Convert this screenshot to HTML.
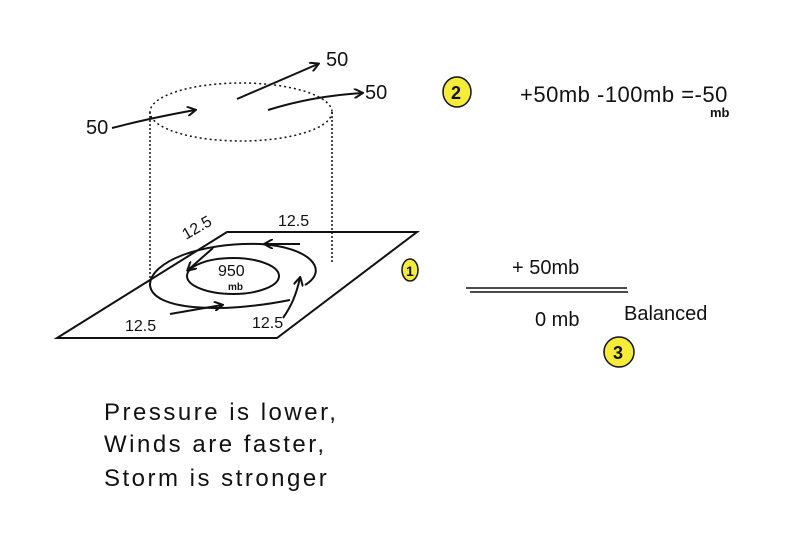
<!DOCTYPE html>
<html><head><meta charset="utf-8"><style>
html,body{margin:0;padding:0;background:#fff;}
svg{display:block}
text{font-family:"Liberation Sans",sans-serif;fill:#111}
</style></head><body>
<svg width="800" height="560" viewBox="0 0 800 560" xmlns="http://www.w3.org/2000/svg">
<defs><marker id="a" markerWidth="10" markerHeight="10" refX="8" refY="5" orient="auto" markerUnits="userSpaceOnUse"><path d="M0,0 L9,5 L0,10" fill="none" stroke="#111" stroke-width="2"/></marker></defs>
<g stroke="#111" fill="none" stroke-width="2">
<path d="M227,232 L417,232 L277,338 L57,338 Z"/>
<ellipse cx="241" cy="112" rx="91" ry="29" stroke-dasharray="2,3" stroke-width="1.5"/>
<line x1="150" y1="112" x2="150" y2="288" stroke-dasharray="2,2" stroke-width="1.5"/>
<line x1="332" y1="112" x2="332" y2="262" stroke-dasharray="2,2" stroke-width="1.5"/>
<ellipse cx="233" cy="276" rx="46" ry="18"/>
<path d="M305,285 C330,270 310,247 260,244 C200,242 150,262 150,285 C152,310 220,314 290,300"/>
<path d="M112,128 C125,125 140,120 195,110" marker-end="url(#a)"/>
<path d="M237,99 L318,64" marker-end="url(#a)"/>
<path d="M268,110 C300,100 330,95 362,93" marker-end="url(#a)"/>
<path d="M300,244 L265,244" marker-end="url(#a)"/>
<path d="M213,248 L188,270" marker-end="url(#a)"/>
<path d="M170,314 L222,305" marker-end="url(#a)"/>
<path d="M283,318 C292,305 296,295 300,278" marker-end="url(#a)"/>
<line x1="466" y1="288" x2="627" y2="288" stroke-width="1.5"/>
<line x1="470" y1="292" x2="628" y2="292" stroke-width="1.5"/>
</g>
<g font-size="20">
<text x="86" y="134">50</text>
<text x="326" y="66">50</text>
<text x="365" y="99">50</text>
<text x="186" y="240" transform="rotate(-30 186 240)" font-size="16">12.5</text>
<text x="278" y="226" font-size="16">12.5</text>
<text x="125" y="331" font-size="16">12.5</text>
<text x="252" y="328" font-size="16">12.5</text>
<text x="218" y="276" font-size="16">950</text>
<text x="228" y="290" font-size="10" font-weight="bold">mb</text>
<text x="520" y="102" font-size="22" letter-spacing="0.5">+50mb -100mb =-50</text>
<text x="710" y="117" font-size="13" font-weight="bold">mb</text>
<text x="512" y="274">+ 50mb</text>
<text x="535" y="326">0 mb</text>
<text x="624" y="320">Balanced</text>
<text x="104" y="420" font-size="24" letter-spacing="2.5">Pressure is lower,</text>
<text x="104" y="452" font-size="24" letter-spacing="2.5">Winds are faster,</text>
<text x="104" y="486" font-size="24" letter-spacing="2.5">Storm is stronger</text>
</g>
<g stroke="#111" stroke-width="1.5" fill="#f5ec3a">
<ellipse cx="457" cy="92" rx="14" ry="15"/>
<ellipse cx="410" cy="270" rx="8" ry="11"/>
<ellipse cx="619" cy="352" rx="15" ry="15"/>
</g>
<g font-size="18" font-weight="bold"><text x="451" y="99">2</text><text x="406" y="276" font-size="14">1</text><text x="613" y="359">3</text></g>
</svg>
</body></html>
